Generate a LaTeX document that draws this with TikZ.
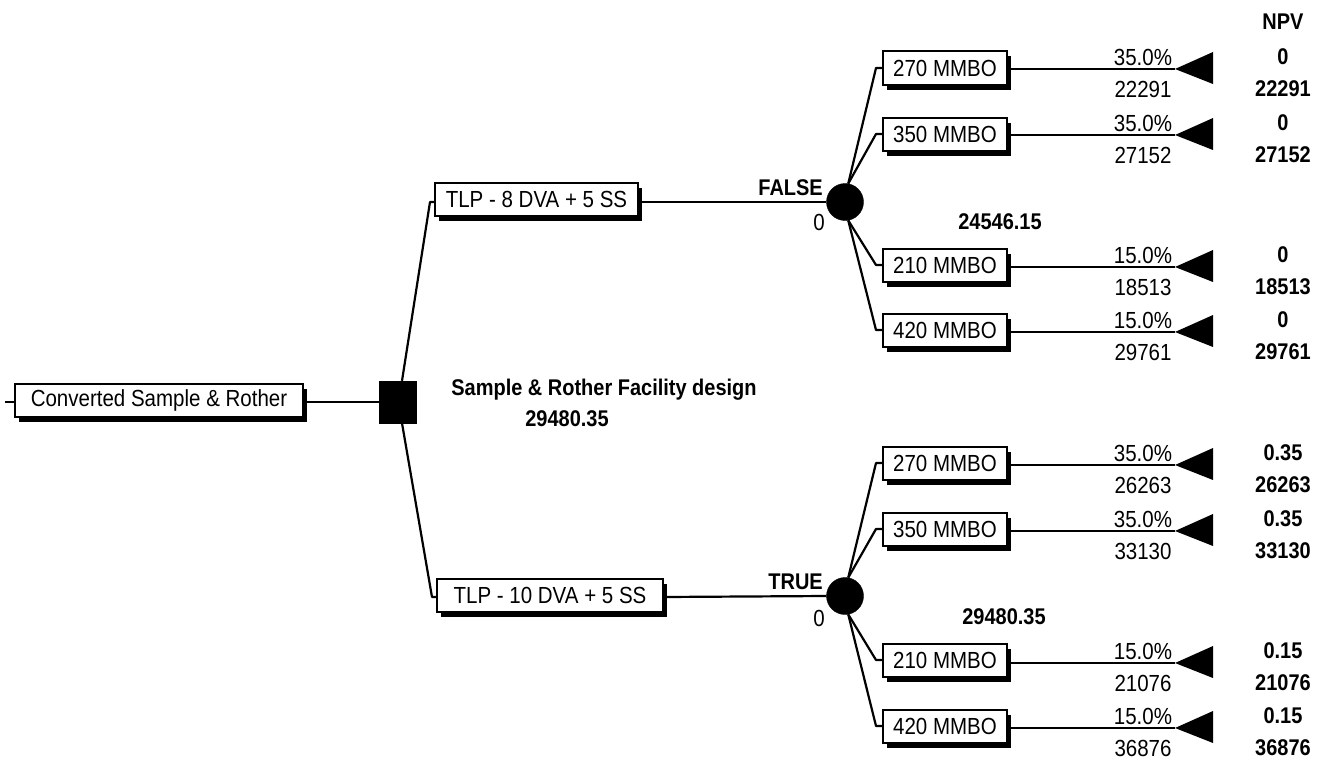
\documentclass[tikz,border=0pt]{standalone}
\usepackage{fontspec}
\setmainfont{Liberation Sans}[FakeStretch=0.88]
\usepackage{tikz}
\usetikzlibrary{positioning,shadows}
\newcommand{\fsTree}{\fontsize{23.3}{26}\selectfont}
\newcommand{\fsBold}{\fontsize{22.7}{26}\selectfont\bfseries}
\tikzset{
  node-box/.style={draw,line width=2pt,fill=white,inner xsep=6pt,inner ysep=0pt,
    minimum height=33pt,font=\fsTree,
    drop shadow={shadow xshift=4pt,shadow yshift=-5pt,fill=black,opacity=1}},
  node-leaf/.style={node-box,minimum width=124pt},
  node-decision/.style={draw,fill=black,minimum width=37pt,minimum height=42pt,inner sep=0pt},
  node-chance/.style={circle,draw,fill=black,minimum size=37pt,inner sep=0pt},
  branch/.style={line width=2.2pt,line join=round},
  txt/.style={font=\fsTree,inner sep=0pt},
  txt-bold/.style={font=\fsBold,inner sep=0pt},
}

\begin{document}
\begin{tikzpicture}[x=1pt,y=-1pt]
  \useasboundingbox (0,0) rectangle (1325,760);

  % root and decision
  \coordinate (stub) at (5,402);
  \node[node-box,minimum width=288pt] (root) at (159,400) {Converted Sample \& Rother};
  \node[node-decision] (dec) at (398,402) {};
  \draw[branch] (stub) -- ([yshift=-2pt]root.west);
  \draw[branch] ([yshift=-2pt]root.east) -- (dec.west);
  \node[txt-bold] (dname) at (604,390) {Sample \& Rother Facility design};
  \node[txt-bold] (dval) at (567,419) {29480.35};

  % alternatives
  \node[node-box,minimum width=203pt] (alt8) at (536.5,199) {TLP - 8 DVA + 5 SS};
  \node[node-box,minimum width=226pt] (alt10) at (550,595) {TLP - 10 DVA + 5 SS};
  \draw[branch] ([xshift=4pt]dec.north) -- ([xshift=-4pt,yshift=-3pt]alt8.west) -- ([yshift=-3pt]alt8.west);
  \draw[branch] ([xshift=4pt]dec.south) -- ([xshift=-4pt,yshift=-2pt]alt10.west) -- ([yshift=-2pt]alt10.west);

  \node[node-chance] (c8) at (845,202) {};
  \node[node-chance] (c10) at (845,596) {};
  \draw[branch] ([yshift=-3pt]alt8.east) -- (c8.west);
  \draw[branch] ([yshift=-2pt]alt10.east) -- (c10.west);
  \node[txt-bold,anchor=east] (f8) at (823,188) {FALSE};
  \node[txt,anchor=east] (z8) at (825,222) {0};
  \node[txt-bold,anchor=east] (f10) at (823,582) {TRUE};
  \node[txt,anchor=east] (z10) at (825,618) {0};
  \node[txt-bold] (ev8) at (1000,222) {24546.15};
  \node[txt-bold] (ev10) at (1004,617) {29480.35};

  \node[txt-bold] (npv) at (1283,22) {NPV};

  % outcomes, FALSE branch
  \node[node-leaf] (a1) at (945,68) {270 MMBO};
  \node[node-leaf] (a2) at (945,134) {350 MMBO};
  \node[node-leaf] (a3) at (945,265) {210 MMBO};
  \node[node-leaf] (a4) at (945,330) {420 MMBO};
  \coordinate (ta1) at (1175,69);
  \coordinate (ta2) at (1175,135);
  \coordinate (ta3) at (1175,267);
  \coordinate (ta4) at (1175,332);
  \draw[branch] (c8.80) -- ([xshift=-6pt]a1.west) -- (a1.west);
  \draw[branch] (c8.80) -- ([xshift=-6pt]a2.west) -- (a2.west);
  \draw[branch] (c8.280) -- ([xshift=-6pt]a3.west) -- (a3.west);
  \draw[branch] (c8.280) -- ([xshift=-6pt]a4.west) -- (a4.west);
  \draw[branch] (a1.east |- ta1) -- (ta1);
  \draw[branch] (a2.east |- ta2) -- (ta2);
  \draw[branch] (a3.east |- ta3) -- (ta3);
  \draw[branch] (a4.east |- ta4) -- (ta4);
  \fill (ta1) -- ++(38,-17) -- ++(0,32) -- cycle;
  \fill (ta2) -- ++(38,-17) -- ++(0,32) -- cycle;
  \fill (ta3) -- ++(38,-17) -- ++(0,32) -- cycle;
  \fill (ta4) -- ++(38,-17) -- ++(0,32) -- cycle;
  \node[txt] (pa1) at (1143,57) {35.0\%};
  \node[txt] (va1) at (1143,89) {22291};
  \node[txt] (pa2) at (1143,123) {35.0\%};
  \node[txt] (va2) at (1143,155) {27152};
  \node[txt] (pa3) at (1143,255) {15.0\%};
  \node[txt] (va3) at (1143,287) {18513};
  \node[txt] (pa4) at (1143,320) {15.0\%};
  \node[txt] (va4) at (1143,352) {29761};
  \node[txt-bold] (qa1) at (1283,57) {0};
  \node[txt-bold] (na1) at (1283,89) {22291};
  \node[txt-bold] (qa2) at (1283,123) {0};
  \node[txt-bold] (na2) at (1283,155) {27152};
  \node[txt-bold] (qa3) at (1283,255) {0};
  \node[txt-bold] (na3) at (1283,287) {18513};
  \node[txt-bold] (qa4) at (1283,320) {0};
  \node[txt-bold] (na4) at (1283,352) {29761};

  % outcomes, TRUE branch
  \node[node-leaf] (b1) at (945,463) {270 MMBO};
  \node[node-leaf] (b2) at (945,529) {350 MMBO};
  \node[node-leaf] (b3) at (945,660) {210 MMBO};
  \node[node-leaf] (b4) at (945,726) {420 MMBO};
  \coordinate (tb1) at (1175,465);
  \coordinate (tb2) at (1175,531);
  \coordinate (tb3) at (1175,663);
  \coordinate (tb4) at (1175,728);
  \draw[branch] (c10.80) -- ([xshift=-6pt]b1.west) -- (b1.west);
  \draw[branch] (c10.80) -- ([xshift=-6pt]b2.west) -- (b2.west);
  \draw[branch] (c10.280) -- ([xshift=-6pt]b3.west) -- (b3.west);
  \draw[branch] (c10.280) -- ([xshift=-6pt]b4.west) -- (b4.west);
  \draw[branch] (b1.east |- tb1) -- (tb1);
  \draw[branch] (b2.east |- tb2) -- (tb2);
  \draw[branch] (b3.east |- tb3) -- (tb3);
  \draw[branch] (b4.east |- tb4) -- (tb4);
  \fill (tb1) -- ++(38,-17) -- ++(0,32) -- cycle;
  \fill (tb2) -- ++(38,-17) -- ++(0,32) -- cycle;
  \fill (tb3) -- ++(38,-17) -- ++(0,32) -- cycle;
  \fill (tb4) -- ++(38,-17) -- ++(0,32) -- cycle;
  \node[txt] (pb1) at (1143,453) {35.0\%};
  \node[txt] (vb1) at (1143,485) {26263};
  \node[txt] (pb2) at (1143,519) {35.0\%};
  \node[txt] (vb2) at (1143,551) {33130};
  \node[txt] (pb3) at (1143,651) {15.0\%};
  \node[txt] (vb3) at (1143,683) {21076};
  \node[txt] (pb4) at (1143,716) {15.0\%};
  \node[txt] (vb4) at (1143,748) {36876};
  \node[txt-bold] (qb1) at (1283,453) {0.35};
  \node[txt-bold] (nb1) at (1283,485) {26263};
  \node[txt-bold] (qb2) at (1283,519) {0.35};
  \node[txt-bold] (nb2) at (1283,551) {33130};
  \node[txt-bold] (qb3) at (1283,651) {0.15};
  \node[txt-bold] (nb3) at (1283,683) {21076};
  \node[txt-bold] (qb4) at (1283,716) {0.15};
  \node[txt-bold] (nb4) at (1283,748) {36876};
\end{tikzpicture}
\end{document}
